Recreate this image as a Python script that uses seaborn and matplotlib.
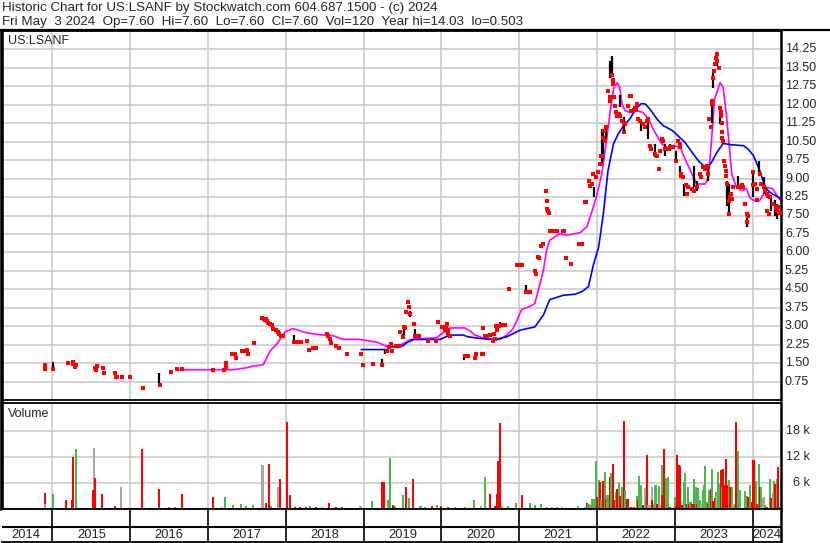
import numpy as np
import pandas as pd
import matplotlib.pyplot as plt
from matplotlib.lines import Line2D
import seaborn as sns

sns.set_style("white")
plt.rcParams['font.family'] = ['Liberation Sans', 'DejaVu Sans']

# ---- price data (decimal year, price) ----
close_year = [2014.91, 2014.91, 2015.01, 2015.20, 2015.26, 2015.26, 2015.29, 2015.31, 2015.55, 2015.56,
              2015.57, 2015.65, 2015.66, 2015.80, 2015.82, 2015.83, 2015.89, 2016.00, 2016.16, 2016.38,
              2016.52, 2016.60, 2016.67, 2017.06, 2017.21, 2017.23, 2017.23, 2017.31, 2017.35, 2017.36,
              2017.44, 2017.48, 2017.50, 2017.52, 2017.59, 2017.69, 2017.72, 2017.73, 2017.74, 2017.76,
              2017.77, 2017.80, 2017.82, 2017.84, 2017.87, 2017.90, 2017.91, 2017.94, 2017.96, 2018.10,
              2018.15, 2018.20, 2018.27, 2018.30, 2018.35, 2018.39, 2018.53, 2018.54, 2018.57, 2018.58,
              2018.64, 2018.68, 2018.79, 2018.97, 2018.99, 2019.12, 2019.24, 2019.30, 2019.33, 2019.35,
              2019.36, 2019.42, 2019.46, 2019.47, 2019.51, 2019.52, 2019.53, 2019.55, 2019.57, 2019.58,
              2019.59, 2019.65, 2019.66, 2019.70, 2019.71, 2019.83, 2019.93, 2019.96, 2020.01, 2020.04,
              2020.06, 2020.07, 2020.08, 2020.09, 2020.11, 2020.30, 2020.34, 2020.43, 2020.45, 2020.52,
              2020.53, 2020.54, 2020.56, 2020.58, 2020.62, 2020.66, 2020.67, 2020.69, 2020.70, 2020.72,
              2020.74, 2020.76, 2020.82, 2020.87, 2020.97, 2020.99, 2021.03, 2021.09, 2021.14, 2021.20,
              2021.21, 2021.24, 2021.25, 2021.28, 2021.30, 2021.34, 2021.35, 2021.36, 2021.37, 2021.38,
              2021.39, 2021.42, 2021.44, 2021.49, 2021.56, 2021.57, 2021.60, 2021.67, 2021.77, 2021.80,
              2021.85, 2021.86, 2021.89, 2021.91, 2021.93, 2021.95, 2021.99, 2022.01, 2022.04, 2022.05,
              2022.06, 2022.08, 2022.09, 2022.10, 2022.12, 2022.14, 2022.16, 2022.17, 2022.19, 2022.20,
              2022.21, 2022.22, 2022.23, 2022.24, 2022.25, 2022.28, 2022.29, 2022.32, 2022.34, 2022.35,
              2022.36, 2022.40, 2022.42, 2022.43, 2022.44, 2022.47, 2022.49, 2022.50, 2022.51, 2022.53,
              2022.55, 2022.59, 2022.61, 2022.64, 2022.66, 2022.68, 2022.69, 2022.74, 2022.77, 2022.80,
              2022.81, 2022.83, 2022.85, 2022.87, 2022.91, 2022.94, 2022.98, 2023.01, 2023.04, 2023.06,
              2023.07, 2023.075, 2023.08, 2023.11, 2023.14, 2023.15, 2023.17, 2023.22, 2023.24, 2023.28,
              2023.32, 2023.34, 2023.36, 2023.39, 2023.41, 2023.42, 2023.43, 2023.44, 2023.46, 2023.47,
              2023.48, 2023.49, 2023.50, 2023.51, 2023.53, 2023.54, 2023.545, 2023.56, 2023.58, 2023.59,
              2023.595, 2023.60, 2023.605, 2023.61, 2023.62, 2023.625, 2023.64, 2023.65, 2023.66, 2023.665,
              2023.69, 2023.70, 2023.71, 2023.72, 2023.73, 2023.75, 2023.81, 2023.84, 2023.86, 2023.88,
              2023.90, 2023.92, 2023.925, 2023.94, 2024.00, 2024.005, 2024.03, 2024.05, 2024.055, 2024.09,
              2024.11, 2024.14, 2024.16, 2024.18, 2024.185, 2024.20, 2024.205, 2024.22, 2024.26, 2024.30,
              2024.31, 2024.33, 2024.34, 2024.35]
close_price = [1.43, 1.27, 1.27, 1.51, 1.54, 1.46, 1.35, 1.42, 1.31, 1.22,
               1.38, 1.31, 1.11, 1.11, 0.95, 0.95, 0.95, 0.95, 0.50, 0.61,
               1.14, 1.27, 1.27, 1.22, 1.22, 1.51, 1.34, 1.88, 1.88, 1.71,
               1.99, 1.99, 2.04, 1.88, 2.31, 3.35, 3.30, 3.24, 3.28, 3.20,
               3.15, 3.10, 3.04, 2.90, 2.84, 2.75, 2.67, 2.62, 2.60, 2.36,
               2.36, 2.36, 2.40, 2.05, 2.12, 2.12, 2.68, 2.60, 2.47, 2.32,
               2.19, 2.12, 1.88, 1.88, 1.43, 1.48, 1.43, 2.00, 2.16, 2.27,
               2.00, 2.19, 2.19, 2.77, 2.55, 2.97, 2.93, 3.57, 3.99, 3.78,
               3.49, 3.08, 2.59, 2.59, 2.61, 2.40, 2.40, 3.18, 2.95, 2.85,
               2.98, 3.10, 2.85, 2.70, 2.60, 1.80, 1.80, 1.70, 1.85, 1.87,
               1.87, 2.93, 2.60, 2.60, 2.64, 2.40, 2.68, 2.50, 3.00, 2.84,
               3.00, 3.04, 3.04, 4.50, 5.47, 5.47, 5.47, 4.39, 4.39, 5.24,
               5.11, 5.81, 5.77, 6.26, 6.36, 8.50, 8.10, 7.78, 7.70, 7.62,
               6.86, 6.86, 6.86, 6.86, 6.86, 6.86, 5.77, 5.51, 6.35, 6.35,
               8.04, 8.04, 8.90, 8.70, 8.80, 9.19, 9.05, 9.25, 9.59, 9.93,
               9.93, 10.67, 10.95, 10.54, 11.08, 12.57, 12.16, 12.30, 13.20, 13.00,
               12.84, 12.30, 11.96, 11.70, 11.55, 11.62, 11.55, 11.35, 11.28, 10.88,
               11.22, 11.96, 12.37, 12.37, 11.75, 11.80, 11.89, 11.80, 12.03, 11.42,
               11.35, 11.22, 11.08, 11.35, 11.42, 10.34, 10.20, 10.00, 9.93, 9.39,
               10.14, 10.61, 10.54, 10.20, 10.20, 10.27, 10.27, 9.73, 10.54, 10.41,
               10.27, 9.19, 9.12, 9.05, 8.72, 8.38, 8.65, 8.58, 8.51, 8.65,
               9.19, 9.05, 9.46, 9.39, 9.53, 9.19, 9.46, 11.42, 11.10, 12.03,
               12.16, 13.10, 13.38, 13.65, 13.92, 14.05, 13.78, 13.51, 11.89, 11.69,
               11.55, 11.28, 10.88, 10.67, 10.54, 9.73, 9.53, 9.32, 9.12, 8.78,
               8.10, 7.57, 8.24, 8.38, 8.17, 8.65, 8.65, 8.65, 8.72, 8.65,
               7.97, 7.57, 7.23, 7.50, 9.25, 8.72, 8.78, 8.58, 8.11, 9.19,
               8.78, 8.65, 8.51, 8.38, 7.70, 8.31, 7.57, 8.24, 7.97, 7.84,
               7.70, 7.84, 7.63, 7.60]

# daily high-low ranges
range_year = [2015.01, 2016.37, 2018.10, 2019.24, 2019.27, 2019.51, 2019.52, 2019.53, 2019.60, 2019.66,
              2020.07, 2020.29, 2020.44, 2020.75, 2021.09, 2021.96, 2022.06, 2022.08, 2022.11, 2022.17,
              2022.19, 2022.29, 2022.35, 2022.57, 2022.66, 2022.74, 2022.87, 2022.94, 2023.01, 2023.07,
              2023.12, 2023.24, 2023.28, 2023.43, 2023.47, 2023.49, 2023.54, 2023.58, 2023.67, 2023.69,
              2023.81, 2023.92, 2024.00, 2024.08, 2024.14, 2024.24, 2024.29, 2024.31]
range_low = [1.25, 0.61, 2.36, 1.43, 1.89, 2.50, 2.50, 2.84, 3.38, 2.59,
             2.84, 1.62, 1.69, 3.00, 4.39, 8.24, 9.60, 9.80, 10.54, 13.10,
             13.24, 11.90, 10.88, 10.94, 10.61, 9.86, 9.93, 10.14, 9.73, 9.05,
             8.31, 8.65, 8.51, 8.92, 11.28, 12.70, 13.58, 11.22, 7.90, 7.57,
             8.58, 7.03, 8.24, 9.20, 8.38, 7.70, 7.50, 7.36]
range_high = [1.53, 1.11, 2.63, 1.66, 2.05, 2.70, 2.97, 2.97, 3.61, 2.87,
              3.17, 1.82, 1.96, 3.17, 4.66, 8.65, 11.00, 10.90, 11.01, 13.78,
              13.99, 12.40, 11.49, 11.42, 11.35, 10.41, 10.41, 10.41, 10.14, 9.53,
              8.78, 9.53, 8.92, 9.53, 12.03, 13.38, 14.05, 11.89, 8.92, 8.80,
              9.12, 7.63, 9.25, 9.73, 9.05, 8.24, 8.11, 7.97]

# moving averages
ma_short_year = [2016.60, 2016.90, 2017.32, 2017.48, 2017.58, 2017.71, 2017.80, 2017.89, 2017.99, 2018.09,
                 2018.27, 2018.44, 2018.61, 2018.73, 2018.95, 2019.17, 2019.31, 2019.43, 2019.55, 2019.60,
                 2019.77, 2019.94, 2019.98, 2020.07, 2020.11, 2020.30, 2020.37, 2020.43, 2020.50, 2020.54,
                 2020.67, 2020.75, 2020.84, 2020.92, 2020.97, 2021.03, 2021.12, 2021.20, 2021.31, 2021.35,
                 2021.39, 2021.52, 2021.61, 2021.78, 2021.87, 2021.93, 2021.99, 2022.06, 2022.12, 2022.17,
                 2022.21, 2022.26, 2022.29, 2022.32, 2022.36, 2022.42, 2022.51, 2022.59, 2022.66, 2022.72,
                 2022.77, 2022.83, 2022.89, 2022.98, 2023.07, 2023.11, 2023.17, 2023.24, 2023.28, 2023.39,
                 2023.43, 2023.47, 2023.51, 2023.58, 2023.62, 2023.66, 2023.70, 2023.73, 2023.79, 2023.86,
                 2023.92, 2023.96, 2024.01, 2024.09, 2024.14, 2024.18, 2024.26, 2024.31, 2024.35]
ma_short = [1.23, 1.23, 1.23, 1.30, 1.38, 1.43, 2.00, 2.30, 2.77, 2.90,
            2.73, 2.65, 2.61, 2.47, 2.46, 2.35, 2.16, 2.16, 2.36, 2.46,
            2.50, 2.53, 2.64, 2.84, 2.93, 2.93, 2.80, 2.64, 2.57, 2.50,
            2.46, 2.46, 2.64, 2.90, 3.24, 3.68, 3.78, 3.92, 5.27, 6.08,
            6.49, 6.76, 6.70, 6.80, 7.05, 7.63, 8.24, 9.19, 10.54, 11.76,
            12.64, 12.90, 12.70, 12.03, 11.76, 11.69, 11.76, 11.69, 11.42, 11.01,
            10.74, 10.41, 10.27, 10.34, 10.27, 9.93, 9.53, 9.05, 8.78, 8.78,
            9.05, 10.54, 12.23, 12.90, 12.70, 11.62, 10.27, 9.19, 8.65, 8.51,
            8.58, 8.24, 8.11, 8.11, 8.38, 8.65, 8.58, 8.31, 8.14]

ma_long_year = [2018.97, 2019.31, 2019.33, 2019.50, 2019.55, 2019.64, 2019.98, 2020.11, 2020.28, 2020.34,
                2020.50, 2020.69, 2020.84, 2021.01, 2021.20, 2021.31, 2021.39, 2021.57, 2021.72, 2021.82,
                2021.89, 2021.95, 2022.02, 2022.08, 2022.14, 2022.21, 2022.27, 2022.34, 2022.42, 2022.51,
                2022.57, 2022.62, 2022.68, 2022.77, 2022.85, 2022.96, 2023.04, 2023.13, 2023.22, 2023.30,
                2023.41, 2023.47, 2023.54, 2023.62, 2023.71, 2023.88, 2023.94, 2024.01, 2024.09, 2024.16,
                2024.22, 2024.33, 2024.35]
ma_long = [2.05, 2.05, 2.16, 2.20, 2.32, 2.46, 2.46, 2.64, 2.64, 2.57,
           2.50, 2.46, 2.57, 2.84, 2.97, 3.45, 4.08, 4.26, 4.30, 4.43,
           4.62, 5.47, 6.22, 7.57, 9.32, 10.41, 10.81, 11.15, 11.42, 11.89,
           12.05, 12.03, 11.82, 11.42, 11.15, 10.97, 10.74, 10.47, 10.07, 9.73,
           9.39, 9.66, 10.07, 10.43, 10.38, 10.34, 10.20, 9.93, 9.32, 8.65,
           8.44, 8.24, 8.20]

# ---- volume (thousands of shares), u = up, d = down, n = unchanged ----
vol_year = [2014.90, 2014.905, 2015.01, 2015.18, 2015.25, 2015.27, 2015.30, 2015.535, 2015.52, 2015.55,
            2015.64, 2015.80, 2015.88, 2015.98, 2016.15, 2016.29, 2016.37, 2016.50, 2016.58, 2016.67,
            2017.06, 2017.18, 2017.22, 2017.32, 2017.42, 2017.49, 2017.58, 2017.70, 2017.74, 2017.78,
            2017.81, 2017.90, 2017.93, 2018.02, 2018.05, 2018.12, 2018.18, 2018.26, 2018.31, 2018.39,
            2018.46, 2018.56, 2018.64, 2018.72, 2018.82, 2018.96, 2019.11, 2019.24, 2019.26, 2019.31,
            2019.34, 2019.38, 2019.40, 2019.51, 2019.55, 2019.58, 2019.64, 2019.73, 2019.79, 2019.88,
            2019.94, 2019.99, 2020.08, 2020.17, 2020.30, 2020.42, 2020.51, 2020.56, 2020.62, 2020.69,
            2020.72, 2020.73, 2020.75, 2020.78, 2020.85, 2020.96, 2021.03, 2021.14, 2021.20, 2021.28,
            2021.36, 2021.42, 2021.48, 2021.545, 2021.59, 2021.66, 2021.76, 2021.79, 2021.84, 2021.87,
            2021.89, 2021.92, 2021.93, 2021.95, 2021.97, 2021.99, 2022.00, 2022.02, 2022.04, 2022.05,
            2022.08, 2022.10, 2022.11, 2022.13, 2022.15, 2022.17, 2022.18, 2022.20, 2022.22, 2022.24,
            2022.26, 2022.28, 2022.30, 2022.32, 2022.34, 2022.36, 2022.37, 2022.39, 2022.41, 2022.44,
            2022.46, 2022.47, 2022.51, 2022.53, 2022.54, 2022.56, 2022.59, 2022.61, 2022.63, 2022.64,
            2022.66, 2022.68, 2022.70, 2022.71, 2022.73, 2022.75, 2022.77, 2022.79, 2022.81, 2022.83,
            2022.84, 2022.86, 2022.88, 2022.89, 2022.91, 2022.94, 2023.00, 2023.01, 2023.03, 2023.05,
            2023.07, 2023.08, 2023.10, 2023.12, 2023.13, 2023.15, 2023.17, 2023.18, 2023.20, 2023.22,
            2023.24, 2023.25, 2023.27, 2023.29, 2023.30, 2023.32, 2023.34, 2023.36, 2023.37, 2023.39,
            2023.41, 2023.42, 2023.44, 2023.46, 2023.48, 2023.49, 2023.51, 2023.53, 2023.54, 2023.55,
            2023.57, 2023.59, 2023.60, 2023.62, 2023.64, 2023.66, 2023.68, 2023.69, 2023.71, 2023.73,
            2023.75, 2023.77, 2023.79, 2023.81, 2023.83, 2023.84, 2023.87, 2023.90, 2023.92, 2023.94,
            2023.96, 2023.97, 2023.99, 2024.01, 2024.02, 2024.04, 2024.06, 2024.08, 2024.09, 2024.11,
            2024.13, 2024.14, 2024.16, 2024.18, 2024.22, 2024.24, 2024.26, 2024.27, 2024.29, 2024.31,
            2024.33, 2024.34]
vol_k = [3.6, 1.2, 3.4, 2.1, 2.1, 12.1, 13.8, 14.1, 4.3, 7.1,
         3.4, 0.7, 5.2, 0.3, 13.8, 0.3, 4.7, 0.4, 0.4, 3.4,
         2.7, 0.4, 2.7, 1.0, 1.2, 0.7, 1.0, 10.1, 1.3, 10.4,
         0.7, 5.2, 6.9, 20.2, 3.2, 0.4, 0.4, 0.4, 0.6, 0.4,
         0.4, 1.5, 0.4, 0.4, 0.3, 0.6, 1.9, 6.2, 6.2, 2.1,
         11.9, 1.0, 0.6, 3.2, 5.2, 2.5, 7.0, 0.6, 0.5, 0.6,
         1.0, 0.7, 0.5, 0.4, 0.5, 2.1, 0.8, 7.3, 3.4, 0.7,
         3.4, 11.2, 19.8, 0.6, 0.7, 1.3, 3.2, 1.3, 1.0, 1.2,
         0.4, 0.4, 0.4, 0.37, 0.3, 0.3, 0.67, 0.3, 0.37, 1.49,
         1.12, 0.9, 2.23, 2.23, 2.23, 11.16, 2.75, 6.62, 6.18, 2.0,
         6.47, 8.48, 2.31, 3.27, 3.27, 7.37, 8.26, 10.49, 2.0, 4.02,
         4.69, 6.03, 2.9, 5.13, 20.31, 4.46, 2.0, 2.23, 0.37, 0.37,
         0.52, 0.37, 3.05, 2.0, 7.59, 5.51, 0.82, 4.76, 2.6, 12.5,
         0.9, 0.97, 5.13, 2.0, 1.26, 5.58, 1.26, 5.21, 0.9, 10.27,
         3.35, 13.84, 4.69, 7.07, 7.37, 0.52, 2.68, 0.74, 12.5, 10.27,
         10.04, 0.9, 0.9, 6.25, 8.26, 1.12, 4.98, 1.12, 1.71, 1.26,
         6.92, 1.26, 4.98, 1.12, 4.84, 2.0, 1.12, 4.46, 5.51, 10.04,
         1.56, 1.26, 4.46, 4.69, 9.15, 1.86, 2.53, 4.02, 3.5, 8.48,
         5.73, 8.93, 4.98, 9.15, 5.58, 11.61, 5.51, 6.7, 4.98, 4.98,
         0.9, 1.12, 20.09, 13.39, 4.46, 0.37, 0.22, 4.24, 3.05, 2.83,
         5.58, 2.83, 1.56, 11.38, 4.61, 6.47, 1.26, 10.49, 5.06, 5.06,
         2.53, 2.75, 0.9, 0.37, 6.92, 2.46, 3.79, 6.47, 5.73, 6.92,
         9.6, 0.52]
vol_dir = ['d', 'n', 'u', 'd', 'd', 'd', 'u', 'n', 'd', 'd',
           'd', 'd', 'n', 'n', 'd', 'u', 'd', 'u', 'u', 'd',
           'd', 'n', 'u', 'u', 'u', 'u', 'u', 'n', 'd', 'd',
           'u', 'n', 'd', 'd', 'd', 'd', 'd', 'd', 'u', 'd',
           'n', 'd', 'd', 'd', 'd', 'n', 'u', 'd', 'd', 'u',
           'u', 'd', 'u', 'u', 'd', 'u', 'd', 'u', 'u', 'd',
           'u', 'd', 'd', 'n', 'u', 'u', 'n', 'u', 'd', 'd',
           'd', 'd', 'd', 'n', 'u', 'u', 'd', 'u', 'u', 'u',
           'n', 'n', 'u', 'n', 'd', 'd', 'u', 'n', 'n', 'd',
           'u', 'u', 'u', 'u', 'u', 'u', 'd', 'u', 'd', 'u',
           'd', 'u', 'd', 'u', 'u', 'd', 'u', 'd', 'd', 'u',
           'd', 'u', 'd', 'u', 'd', 'u', 'u', 'd', 'n', 'd',
           'n', 'd', 'u', 'd', 'u', 'u', 'd', 'n', 'u', 'd',
           'n', 'n', 'n', 'd', 'u', 'u', 'd', 'u', 'n', 'u',
           'd', 'd', 'd', 'u', 'u', 'd', 'u', 'd', 'd', 'd',
           'd', 'd', 'd', 'u', 'u', 'd', 'u', 'd', 'u', 'd',
           'u', 'd', 'u', 'd', 'u', 'u', 'n', 'u', 'u', 'u',
           'u', 'd', 'u', 'd', 'u', 'd', 'd', 'u', 'n', 'u',
           'u', 'd', 'u', 'd', 'd', 'd', 'd', 'u', 'd', 'u',
           'n', 'u', 'd', 'u', 'u', 'n', 'd', 'u', 'u', 'd',
           'u', 'u', 'd', 'd', 'd', 'u', 'd', 'u', 'd', 'u',
           'n', 'n', 'u', 'd', 'u', 'd', 'n', 'u', 'd', 'u',
           'd', 'd']

price_ticks = [0.75, 1.50, 2.25, 3.00, 3.75, 4.50, 5.25, 6.00, 6.75, 7.50,
               8.25, 9.00, 9.75, 10.50, 11.25, 12.00, 12.75, 13.50, 14.25]
vol_ticks = [6, 12, 18]
vol_tick_labels = ['6 k', '12 k', '18 k']
year_bounds = [2015, 2016, 2017, 2018, 2019, 2020, 2021, 2022, 2023, 2024]
year_labels = ['2014', '2015', '2016', '2017', '2018', '2019', '2020', '2021', '2022', '2023', '2024']
year_label_pos = [2014.66, 2015.5, 2016.5, 2017.5, 2018.5, 2019.5, 2020.5, 2021.5, 2022.5, 2023.5, 2024.18]

header1 = "Historic Chart for US:LSANF by Stockwatch.com 604.687.1500 - (c) 2024"
header2 = "Fri May  3 2024  Op=7.60  Hi=7.60  Lo=7.60  Cl=7.60  Vol=120  Year hi=14.03  lo=0.503"

XMIN, XMAX = 2014.353, 2024.363
GRID = '#c8c8c8'
COLORS = {'u': '#4cb84c', 'd': '#ff0000', 'n': '#a8a8a8'}

W, H = 830, 543
fig = plt.figure(figsize=(W / 100, H / 100), dpi=100)
fig.patch.set_facecolor('white')


def box(top, bottom, left=2, right=781):
    return [left / W, 1 - bottom / H, (right - left) / W, (bottom - top) / H]


ax = fig.add_axes(box(31, 400))
axv = fig.add_axes(box(403, 509))
axy = fig.add_axes(box(509, 542))

# header
fig.text(2 / W, 1 - 8 / H, header1, fontsize=9.6, va='center', ha='left')
fig.text(2 / W, 1 - 22 / H, header2, fontsize=9.6, va='center', ha='left')
fig.add_artist(Line2D([0, 1], [1 - 30 / H] * 2, color='black', lw=1.6))

# ---- price panel ----
ax.set_xlim(XMIN, XMAX)
ax.set_ylim(0, 15)
ax.set_xticks(year_bounds)
ax.set_yticks(price_ticks)
ax.grid(True, color=GRID, lw=1.1)
ax.set_axisbelow(True)
ax.tick_params(left=False, bottom=False, labelleft=False, labelbottom=False)

sns.lineplot(x=ma_short_year, y=ma_short, color='#ff00ff', lw=1.2, ax=ax,
             estimator=None, sort=False)
sns.lineplot(x=ma_long_year, y=ma_long, color='#0000ff', lw=1.2, ax=ax,
             estimator=None, sort=False)
ax.vlines(range_year, range_low, range_high, color='black', lw=1.6, zorder=3)
sns.scatterplot(x=close_year, y=close_price, color='#ff0000', marker='s', s=5,
                linewidth=0, ax=ax, zorder=4)

for v in price_ticks:
    ax.text(1.005, v, f"{v:.2f}", transform=ax.get_yaxis_transform(),
            fontsize=9, va='center', ha='left', clip_on=False)
ax.text(0.008, 0.973, "US:LSANF", transform=ax.transAxes, fontsize=9,
        va='center', ha='left')

# ---- volume panel ----
axv.set_xlim(XMIN, XMAX)
axv.set_ylim(0, 24.5)
axv.set_xticks(year_bounds)
axv.set_yticks(vol_ticks)
axv.grid(True, color=GRID, lw=1.1)
axv.set_axisbelow(True)
axv.tick_params(left=False, bottom=False, labelleft=False, labelbottom=False)
axv.bar(vol_year, vol_k, width=0.027, color=[COLORS[d] for d in vol_dir],
        linewidth=0, antialiased=False)
for v, lab in zip(vol_ticks, vol_tick_labels):
    axv.text(1.037, v, lab, transform=axv.get_yaxis_transform(),
             fontsize=9, va='center', ha='right', clip_on=False)
axv.text(0.008, 0.9, "Volume", transform=axv.transAxes, fontsize=9,
         va='center', ha='left')

# ---- year strip ----
axy.set_xlim(XMIN, XMAX)
axy.set_ylim(0, 1)
axy.set_xticks([])
axy.set_yticks([])
axy.axhline(15 / 33, color='black', lw=1.5)
for yb in year_bounds:
    axy.axvline(yb, color='black', lw=1.2)
for pos, lab in zip(year_label_pos, year_labels):
    axy.text(pos, 7.5 / 33, lab, fontsize=9.3, ha='center', va='center')

for a in (ax, axv, axy):
    for s in a.spines.values():
        s.set_color('black')
        s.set_linewidth(1.3)
    a.spines['right'].set_linewidth(1.8)
ax.spines['left'].set_linewidth(2.6)
axv.spines['left'].set_linewidth(2.6)
axy.spines['left'].set_visible(False)

fig.savefig('out.png', dpi=100, facecolor='white')
